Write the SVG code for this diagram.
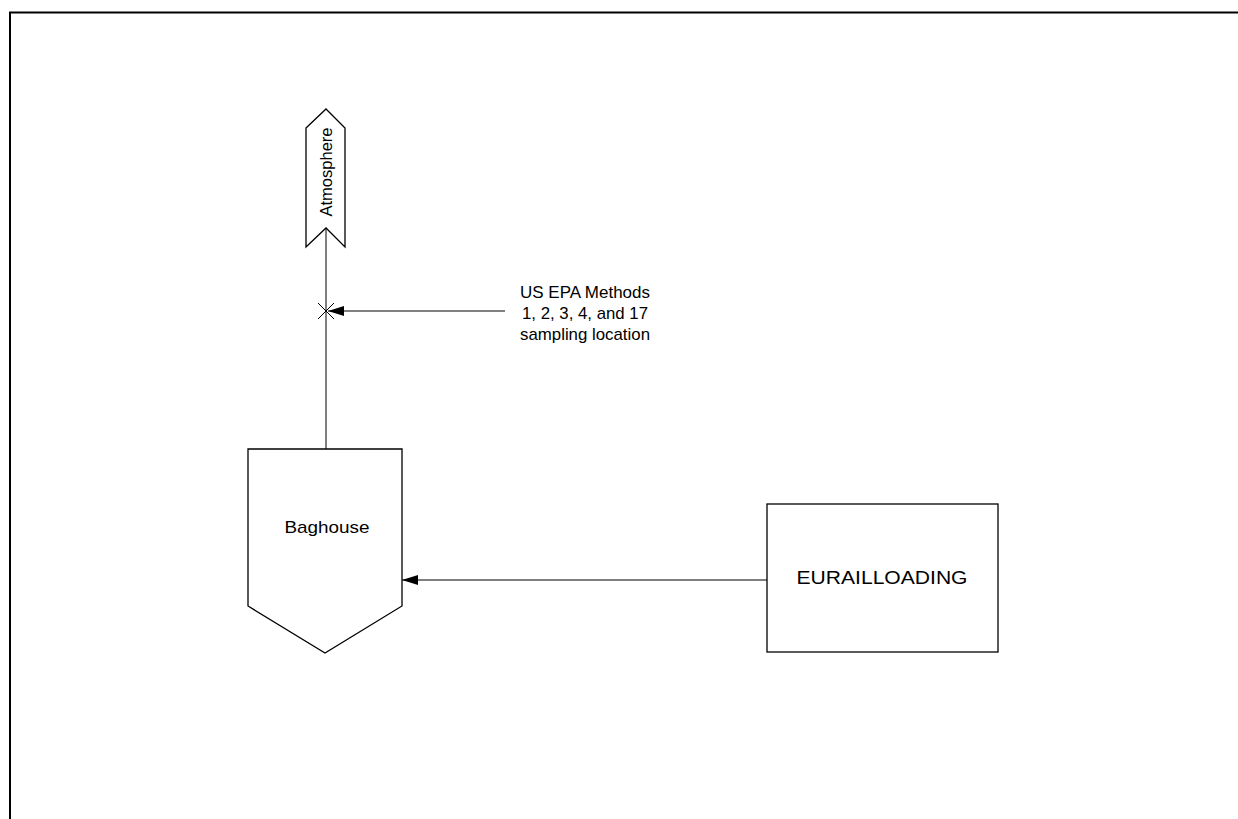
<svg xmlns="http://www.w3.org/2000/svg" width="1238" height="819" viewBox="0 0 1238 819">
<style>
.shape{fill:#fff;stroke:#000;stroke-width:1.3}
.line{fill:none;stroke:#000;stroke-width:1}
text{font-family:"Liberation Sans",Arial,sans-serif;fill:#000}
</style>
<defs>
<marker id="arr" viewBox="0 0 16 10" refX="16" refY="5" markerWidth="16" markerHeight="10" markerUnits="userSpaceOnUse" orient="auto">
<path d="M0,0 L16,5 L0,10 Z" fill="#000"/>
</marker>
</defs>
<rect width="1238" height="819" fill="#fff"/>
<path d="M10,819 L10,12.5 L1238,12.5" fill="none" stroke="#000" stroke-width="2"/>
<g id="connectors">
<line class="line" x1="326" y1="449" x2="326" y2="228"/>
<line class="line" x1="505" y1="311" x2="328" y2="311" marker-end="url(#arr)"/>
<path class="line" d="M318,303 L334,319 M334,303 L318,319"/>
<line class="line" x1="767" y1="580" x2="402" y2="580" marker-end="url(#arr)"/>
</g>
<g id="atmosphere">
<polygon class="shape" points="306,128 326,109 345,128 345,247 326,228 306,247"/>
<text transform="translate(332,172) rotate(-90)" text-anchor="middle" font-size="16" textLength="89" lengthAdjust="spacingAndGlyphs">Atmosphere</text>
</g>
<g id="label">
<text x="585" y="298" text-anchor="middle" font-size="17" textLength="130" lengthAdjust="spacingAndGlyphs">US EPA Methods</text>
<text x="585" y="319" text-anchor="middle" font-size="17" textLength="126" lengthAdjust="spacingAndGlyphs">1, 2, 3, 4, and 17</text>
<text x="585" y="340" text-anchor="middle" font-size="17" textLength="130" lengthAdjust="spacingAndGlyphs">sampling location</text>
</g>
<g id="baghouse">
<polygon class="shape" points="248,449 402,449 402,606 325,653 248,606"/>
<text x="327" y="533" text-anchor="middle" font-size="17" textLength="85" lengthAdjust="spacingAndGlyphs">Baghouse</text>
</g>
<g id="eurailloading">
<rect class="shape" x="767" y="504" width="231" height="148"/>
<text x="882" y="584" text-anchor="middle" font-size="18" textLength="171" lengthAdjust="spacingAndGlyphs">EURAILLOADING</text>
</g>
</svg>
